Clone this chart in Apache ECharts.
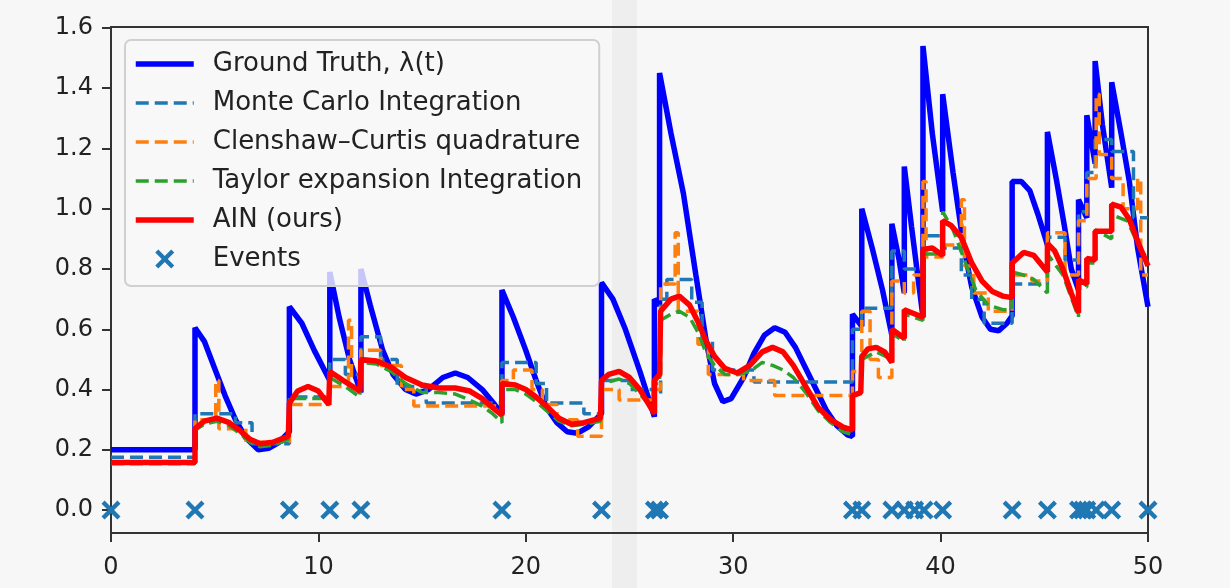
<!DOCTYPE html>
<html>
<head>
<meta charset="utf-8">
<script src="https://cdn.jsdelivr.net/npm/echarts@6/dist/echarts.min.js"></script>
<style>
  html, body { margin: 0; padding: 0; background: #f7f7f7; }
  #chart { width: 1230px; height: 588px; }
</style>
</head>
<body>
<div id="chart"></div>
<script>
// ground truth intensity, [t, value] (duplicated t = jump at an event)
var groundTruth = [
  [0,0.2],[4.05,0.2],[4.05,0.605],[4.5,0.56],[5.0,0.47],[5.5,0.38],[6.0,0.30],[6.5,0.24],[7.1,0.20],
  [7.6,0.205],[8.1,0.225],[8.6,0.26],[8.6,0.675],[9.2,0.62],[9.8,0.53],[10.55,0.43],[10.55,0.79],
  [11.0,0.64],[11.5,0.50],[12.05,0.39],[12.05,0.80],[12.5,0.68],[13.1,0.53],[13.6,0.45],[14.2,0.40],
  [14.7,0.385],[15.3,0.40],[16.0,0.44],[16.6,0.455],[17.2,0.44],[17.9,0.40],[18.5,0.35],[18.85,0.32],
  [18.85,0.73],[19.4,0.64],[20.0,0.53],[20.5,0.43],[21.0,0.34],[21.5,0.29],[22.0,0.26],[22.5,0.255],
  [23.0,0.275],[23.65,0.32],[23.65,0.755],[24.2,0.70],[24.8,0.60],[25.5,0.46],[26.2,0.31],[26.2,0.70],
  [26.45,0.68],[26.45,1.45],[27.0,1.25],[27.6,1.05],[28.2,0.78],[28.7,0.56],[29.1,0.42],[29.5,0.36],
  [29.9,0.37],[30.5,0.44],[31.0,0.52],[31.5,0.58],[32.0,0.605],[32.5,0.59],[33.0,0.54],[33.5,0.47],
  [34.0,0.40],[34.5,0.33],[35.0,0.28],[35.5,0.25],[35.75,0.245],[35.75,0.65],[36.2,0.61],[36.2,1.00],
  [36.7,0.87],[37.2,0.73],[37.65,0.58],[37.65,0.95],[38.0,0.83],[38.25,0.72],[38.25,1.14],[38.6,0.94],
  [39.15,0.64],[39.15,1.54],[39.6,1.25],[40.1,0.99],[40.1,1.38],[40.6,1.12],[41.1,0.88],[41.5,0.74],
  [42.0,0.64],[42.4,0.60],[42.8,0.595],[43.2,0.62],[43.45,0.645],[43.45,1.09],[43.9,1.09],[44.3,1.06],
  [44.7,0.98],[45.15,0.88],[45.15,1.255],[45.6,1.09],[46.0,0.93],[46.3,0.80],[46.65,0.73],[46.65,1.03],
  [47.05,0.97],[47.05,1.31],[47.45,1.15],[47.45,1.49],[47.8,1.28],[48.25,1.07],[48.25,1.42],[48.7,1.25],
  [49.1,1.09],[49.5,0.87],[50,0.675]
];
// piecewise constant estimates: value holds until the next point
var monteCarlo = [
  [0,0.175],[4.05,0.32],[6.0,0.29],[6.8,0.22],[8.6,0.375],[10.55,0.50],[11.3,0.45],[12.05,0.575],
  [13.0,0.50],[13.8,0.41],[15.2,0.355],[18.85,0.49],[20.5,0.42],[21.0,0.355],[22.8,0.32],[23.65,0.43],
  [25.0,0.40],[26.2,0.38],[26.5,0.70],[26.8,0.765],[28.0,0.69],[28.5,0.56],[29.0,0.465],[31.0,0.425],
  [35.75,0.60],[36.2,0.67],[37.65,0.86],[38.25,0.80],[39.15,0.91],[40.1,0.87],[41.0,0.78],[41.5,0.70],
  [42.1,0.62],[43.45,0.75],[45.15,0.905],[46.0,0.83],[46.65,0.99],[47.05,1.12],[47.45,1.23],[48.25,1.19],
  [49.3,0.97],[50,0.97]
];
var clenshawCurtis = [
  [0,0.155],[4.05,0.30],[5.05,0.43],[5.2,0.27],[6.5,0.225],[8.6,0.35],[10.55,0.41],[11.45,0.63],
  [11.6,0.44],[12.05,0.53],[13.0,0.48],[14.0,0.40],[14.6,0.345],[18.85,0.43],[19.4,0.465],[20.3,0.40],
  [20.8,0.35],[21.5,0.30],[22.5,0.245],[23.65,0.40],[24.5,0.365],[26.2,0.40],[26.5,0.75],[27.2,0.92],
  [27.35,0.66],[28.3,0.55],[28.8,0.45],[30.5,0.43],[32.0,0.38],[35.75,0.46],[36.2,0.66],[36.6,0.50],
  [37.0,0.44],[37.65,0.76],[38.25,0.72],[38.7,0.78],[39.15,1.09],[39.3,0.84],[40.1,0.88],[41.0,1.03],
  [41.15,0.81],[41.6,0.72],[42.3,0.66],[43.45,0.78],[44.4,0.76],[45.15,0.92],[46.0,0.78],[46.65,0.96],
  [47.05,1.10],[47.5,1.38],[47.65,1.18],[48.25,1.10],[48.8,1.00],[49.5,1.10],[49.65,0.78],[50,0.78]
];
var taylor = [
  [0,0.155],[4.05,0.155],[4.05,0.265],[4.5,0.285],[5.1,0.295],[5.7,0.28],[6.2,0.255],[6.7,0.225],
  [7.2,0.21],[7.8,0.215],[8.55,0.235],[8.6,0.37],[10.5,0.37],[10.55,0.44],[11.3,0.41],[12.0,0.375],
  [12.05,0.49],[12.8,0.485],[13.5,0.46],[14.2,0.42],[15.0,0.39],[15.8,0.39],[16.6,0.385],[17.3,0.365],
  [17.9,0.345],[18.4,0.32],[18.85,0.29],[18.85,0.40],[19.5,0.40],[20.0,0.385],[20.5,0.36],[21.0,0.33],
  [21.6,0.295],[22.2,0.28],[22.8,0.285],[23.6,0.295],[23.65,0.42],[24.5,0.435],[25.0,0.42],[25.5,0.385],
  [26.2,0.33],[26.2,0.42],[26.45,0.42],[26.5,0.63],[27.0,0.65],[27.4,0.66],[27.9,0.64],[28.3,0.59],
  [28.7,0.52],[29.1,0.48],[29.6,0.45],[30.2,0.45],[30.8,0.46],[31.4,0.49],[31.9,0.48],[32.4,0.465],
  [32.9,0.44],[33.5,0.39],[34.1,0.33],[34.7,0.29],[35.3,0.26],[35.75,0.25],[35.75,0.38],[36.15,0.39],
  [36.2,0.50],[36.9,0.525],[37.65,0.50],[37.65,0.585],[38.25,0.56],[38.25,0.65],[39.15,0.63],[39.15,0.85],
  [40.1,0.85],[40.1,0.99],[40.6,0.93],[41.2,0.82],[41.7,0.73],[42.3,0.68],[43.0,0.665],[43.45,0.665],
  [43.45,0.79],[44.0,0.78],[44.5,0.765],[45.15,0.72],[45.15,0.85],[45.9,0.78],[46.65,0.64],[46.65,0.74],
  [47.05,0.74],[47.05,0.82],[47.45,0.82],[47.45,0.93],[48.25,0.90],[48.25,0.98],[49.0,0.96],[49.6,0.87],
  [50,0.83]
];
var ain = [
  [0,0.158],[4.05,0.158],[4.05,0.27],[4.5,0.295],[5.1,0.305],[5.7,0.29],[6.2,0.265],[6.7,0.235],
  [7.2,0.22],[7.8,0.225],[8.55,0.245],[8.6,0.355],[9.0,0.395],[9.5,0.41],[10.0,0.395],[10.5,0.35],
  [10.55,0.46],[11.2,0.43],[12.0,0.395],[12.05,0.50],[12.8,0.495],[13.5,0.475],[14.2,0.44],[15.0,0.415],
  [15.8,0.405],[16.6,0.405],[17.3,0.395],[17.9,0.37],[18.4,0.34],[18.85,0.315],[18.85,0.42],[19.5,0.415],
  [20.0,0.40],[20.5,0.375],[21.0,0.345],[21.6,0.305],[22.2,0.285],[22.8,0.29],[23.6,0.305],[23.65,0.43],
  [24.0,0.45],[24.5,0.46],[25.0,0.44],[25.5,0.40],[26.2,0.32],[26.2,0.43],[26.45,0.45],[26.5,0.66],
  [27.0,0.70],[27.4,0.71],[27.9,0.68],[28.3,0.625],[28.7,0.56],[29.1,0.51],[29.6,0.47],[30.2,0.455],
  [30.8,0.48],[31.4,0.525],[31.9,0.54],[32.4,0.525],[32.9,0.48],[33.5,0.41],[34.1,0.34],[34.7,0.30],
  [35.3,0.275],[35.75,0.265],[35.75,0.38],[36.15,0.39],[36.2,0.51],[36.5,0.535],[36.9,0.54],[37.3,0.525],
  [37.65,0.49],[37.65,0.60],[38.25,0.57],[38.25,0.665],[39.15,0.64],[39.15,0.865],[39.6,0.87],[40.1,0.845],
  [40.1,0.96],[40.5,0.945],[41.0,0.905],[41.5,0.82],[42.0,0.76],[42.5,0.725],[43.0,0.71],[43.45,0.705],
  [43.45,0.82],[44.0,0.855],[44.5,0.845],[45.15,0.79],[45.15,0.885],[45.5,0.86],[45.9,0.80],[46.3,0.72],
  [46.65,0.655],[46.65,0.765],[47.05,0.75],[47.05,0.835],[47.45,0.83],[47.45,0.925],[48.25,0.925],
  [48.25,1.015],[48.7,1.005],[49.1,0.965],[49.6,0.875],[50,0.81]
];
var eventTimes = [0, 4.05, 8.6, 10.55, 12.05, 18.85, 23.65, 26.2, 26.45, 35.75, 36.2, 37.65, 38.25,
  38.75, 39.2, 40.1, 43.45, 45.15, 46.65, 46.85, 47.05, 47.5, 48.25, 50];
var xTicks = [0, 10, 20, 30, 40, 50];
var yTicks = [0, 0.2, 0.4, 0.6, 0.8, 1.0, 1.2, 1.4, 1.6];

var FONT = 'DejaVu Sans';
var crossPath = 'path://M1.6,0L5,3.4L8.4,0L10,1.6L6.6,5L10,8.4L8.4,10L5,6.6L1.6,10L0,8.4L3.4,5L0,1.6Z';
var dash = [13, 6];
var tickStyle = { show: true, length: 9, lineStyle: { color: '#333', width: 2 } };

var chart = echarts.init(document.getElementById('chart'));
var option = {
  backgroundColor: '#f7f7f7',
  animation: false,
  graphic: [{
    type: 'rect', z: -10, silent: true,
    shape: { x: 612, y: 0, width: 25, height: 588 },
    style: { fill: '#eeeeee' }
  }],
  grid: {
    left: 111, right: 82, top: 27, bottom: 55,
    show: true, borderColor: '#333', borderWidth: 2, backgroundColor: 'transparent'
  },
  legend: {
    orient: 'vertical', left: 125, top: 40,
    padding: [11, 17, 14, 8],
    itemGap: 13, itemWidth: 58, itemHeight: 19,
    backgroundColor: 'rgba(247,247,247,0.8)',
    borderColor: '#d0d0d0', borderWidth: 2, borderRadius: 6,
    selectedMode: false,
    itemStyle: { opacity: 0 },
    lineStyle: { width: 'inherit', type: 'inherit' },
    textStyle: { fontFamily: FONT, fontSize: 26, color: '#222', padding: [0, 0, 0, 14] },
    data: ['Ground Truth, λ(t)', 'Monte Carlo Integration', 'Clenshaw–Curtis quadrature',
           'Taylor expansion Integration', 'AIN (ours)',
           { name: 'Events', itemStyle: { opacity: 1 } }]
  },
  xAxis: {
    type: 'value', min: 0, max: 50, interval: 10,
    axisLine: { show: true, onZero: false, lineStyle: { color: '#333', width: 2 } },
    axisTick: Object.assign({ customValues: xTicks }, tickStyle),
    axisLabel: { margin: 23, fontFamily: FONT, fontSize: 24, color: '#222', customValues: xTicks },
    splitLine: { show: false }
  },
  yAxis: {
    type: 'value', min: -0.076, max: 1.603,
    axisLine: { show: true, onZero: false, lineStyle: { color: '#333', width: 2 } },
    axisTick: Object.assign({ customValues: yTicks }, tickStyle),
    axisLabel: { margin: 18, fontFamily: FONT, fontSize: 24, color: '#222', customValues: yTicks,
                 formatter: function (v) { return v.toFixed(1); } },
    splitLine: { show: false }
  },
  series: [
    {
      name: 'Ground Truth, λ(t)', type: 'line', data: groundTruth, symbol: 'none', z: 2,
      lineStyle: { color: '#0000ff', width: 5.5 }, itemStyle: { color: '#0000ff' }
    },
    {
      name: 'Monte Carlo Integration', type: 'line', data: monteCarlo, step: 'end', symbol: 'none', z: 3,
      lineStyle: { color: '#1f77b4', width: 3.5, type: dash }, itemStyle: { color: '#1f77b4' }
    },
    {
      name: 'Clenshaw–Curtis quadrature', type: 'line', data: clenshawCurtis, step: 'end', symbol: 'none', z: 4,
      lineStyle: { color: '#ff7f0e', width: 3.5, type: dash }, itemStyle: { color: '#ff7f0e' }
    },
    {
      name: 'Taylor expansion Integration', type: 'line', data: taylor, symbol: 'none', z: 5,
      lineStyle: { color: '#2ca02c', width: 3.5, type: dash }, itemStyle: { color: '#2ca02c' }
    },
    {
      name: 'AIN (ours)', type: 'line', data: ain, symbol: 'none', z: 6,
      lineStyle: { color: '#ff0000', width: 5.5 }, itemStyle: { color: '#ff0000' }
    },
    {
      name: 'Events', type: 'scatter', z: 7,
      data: eventTimes.map(function (t) { return [t, 0]; }),
      symbol: crossPath, symbolSize: 19,
      itemStyle: { color: '#1f77b4', opacity: 1 }
    }
  ]
};
chart.setOption(option);
</script>
</body>
</html>
